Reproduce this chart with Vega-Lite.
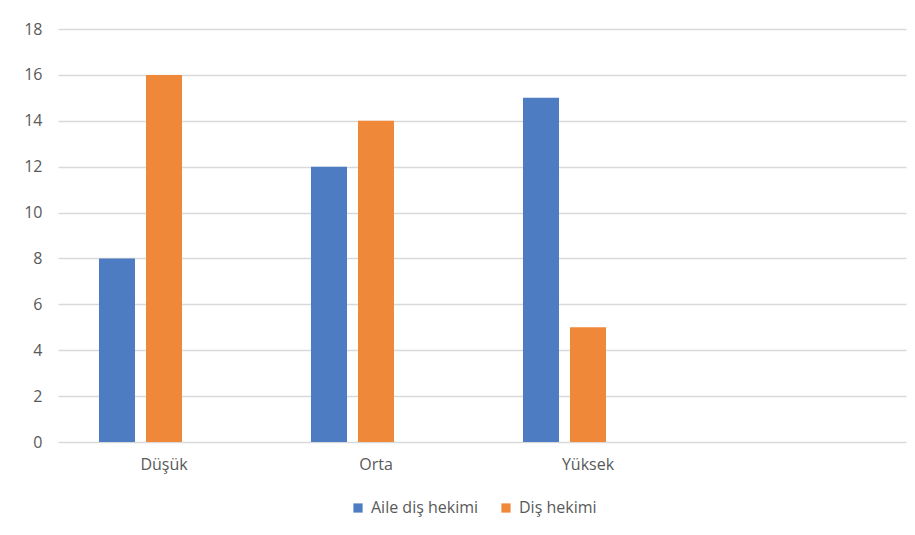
{
  "$schema": "https://vega.github.io/schema/vega-lite/v6.json",
  "width": 848,
  "height": 413,
  "autosize": {"type": "none"},
  "padding": {"left": 58, "top": 29, "right": 9, "bottom": 93},
  "background": "white",
  "config": {
    "font": "Open Sans",
    "view": {"stroke": null},
    "axis": {"labelColor": "#595959", "labelFont": "Open Sans", "labelFontSize": 16, "gridColor": "#D9D9D9", "gridWidth": 1.3, "domain": false, "ticks": false},
    "legend": {"labelColor": "#595959", "labelFont": "Open Sans", "labelFontSize": 16}
  },
  "data": {
    "values": [
      {"seviye": "Düşük", "grup": "Aile diş hekimi", "deger": 8},
      {"seviye": "Düşük", "grup": "Diş hekimi", "deger": 16},
      {"seviye": "Orta", "grup": "Aile diş hekimi", "deger": 12},
      {"seviye": "Orta", "grup": "Diş hekimi", "deger": 14},
      {"seviye": "Yüksek", "grup": "Aile diş hekimi", "deger": 15},
      {"seviye": "Yüksek", "grup": "Diş hekimi", "deger": 5}
    ]
  },
  "mark": {"type": "bar"},
  "encoding": {
    "x": {
      "field": "seviye", "type": "nominal",
      "scale": {"domain": ["Düşük", "Orta", "Yüksek", " "], "paddingInner": 0, "paddingOuter": 0},
      "axis": {"title": null, "labelAngle": 0, "labelPadding": 14, "grid": false}
    },
    "xOffset": {
      "field": "grup", "type": "nominal",
      "scale": {"domain": ["Aile diş hekimi", "Diş hekimi", "_"], "paddingInner": 0.234, "paddingOuter": 0.872}
    },
    "y": {
      "field": "deger", "type": "quantitative",
      "scale": {"domain": [0, 18], "nice": false},
      "axis": {"title": null, "values": [0, 2, 4, 6, 8, 10, 12, 14, 16, 18], "labelPadding": 16, "grid": true}
    },
    "color": {
      "field": "grup", "type": "nominal",
      "scale": {"domain": ["Aile diş hekimi", "Diş hekimi"], "range": ["#4E7CC2", "#F0883A"]},
      "legend": {"title": null, "orient": "none", "legendX": 292, "legendY": 471, "direction": "horizontal", "symbolType": "square", "symbolSize": 85, "symbolStrokeWidth": 0, "columnPadding": 19, "labelOffset": 5}
    }
  }
}
